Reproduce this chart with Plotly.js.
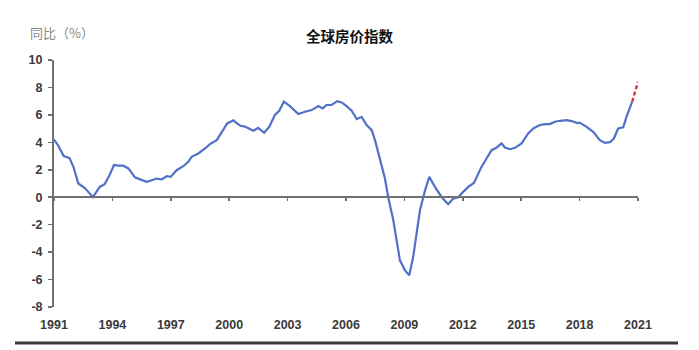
<!DOCTYPE html>
<html>
<head>
<meta charset="utf-8">
<script src="https://cdn.plot.ly/plotly-3.0.1.min.js"></script>
<style>html,body{margin:0;padding:0;background:#fff;}</style>
</head>
<body>
<div id="chart" style="width:699px;height:350px;"></div>
<script>
// Global house price index, YoY (%)
var years = [1991.0,1991.2,1991.5,1991.8,1992.0,1992.25,1992.6,1993.0,1993.35,1993.6,1993.85,1994.08,1994.3,1994.56,1994.82,
  1995.16,1995.42,1995.76,1996.02,1996.27,1996.53,1996.79,1996.99,1997.3,1997.64,1997.9,1998.07,1998.41,1998.76,1999.01,
  1999.36,1999.61,1999.9,2000.21,2000.55,2000.81,2001.24,2001.49,2001.79,2002.06,2002.35,2002.57,2002.81,2003.12,2003.55,
  2003.89,2004.24,2004.58,2004.8,2005.0,2005.26,2005.55,2005.78,2006.03,2006.29,2006.55,2006.8,2007.06,2007.32,2007.49,
  2007.74,2008.0,2008.17,2008.43,2008.77,2009.03,2009.25,2009.45,2009.8,2010.06,2010.28,2010.57,2010.91,2011.25,2011.51,
  2011.77,2012.02,2012.28,2012.57,2012.8,2012.96,2013.22,2013.48,2013.74,2013.99,2014.16,2014.42,2014.68,2015.02,2015.36,
  2015.62,2015.96,2016.22,2016.47,2016.73,2016.99,2017.33,2017.59,2017.85,2018.02,2018.36,2018.7,2019.04,2019.3,2019.56,
  2019.76,2019.98,2020.24,2020.41,2020.7];
var yoy = [4.2,3.8,3.0,2.85,2.2,1.0,0.65,0.0,0.75,0.95,1.6,2.35,2.3,2.3,2.1,
  1.45,1.3,1.12,1.24,1.36,1.3,1.53,1.48,1.97,2.26,2.58,2.94,3.19,3.55,3.87,
  4.16,4.77,5.38,5.6,5.22,5.15,4.84,5.06,4.7,5.13,6.0,6.3,6.96,6.64,6.06,
  6.23,6.35,6.64,6.47,6.72,6.72,7.0,6.91,6.64,6.3,5.69,5.86,5.26,4.89,4.16,
  2.7,1.36,0.0,-1.68,-4.6,-5.33,-5.69,-4.36,-0.95,0.51,1.48,0.75,0.02,-0.51,-0.1,
  0.0,0.39,0.75,1.04,1.73,2.21,2.82,3.43,3.62,3.92,3.62,3.5,3.6,3.92,4.65,
  5.01,5.26,5.33,5.33,5.5,5.57,5.62,5.55,5.42,5.42,5.13,4.77,4.16,3.96,4.01,
  4.28,5.01,5.09,5.86,6.96];
// Projection (red dashed)
var projYears = [2020.7, 2021.0];
var projYoy = [6.96, 8.4];
var xTicks = [1991,1994,1997,2000,2003,2006,2009,2012,2015,2018,2021];
var yTicks = [-8,-6,-4,-2,0,2,4,6,8,10];
var yTickText = ['-8','-6','-4','-2','0','2','4','6','8','10'];

var tickFont = {family:'"Liberation Sans", Arial, sans-serif', size:12.5, color:'#3a3a3a', weight:'bold'};
var axisGray = '#707070';

var traces = [
  {x: years, y: yoy, xaxis:'x', yaxis:'y', mode:'lines', line:{color:'#5170c8', width:2.2}, hoverinfo:'skip', showlegend:false},
  {x: projYears, y: projYoy, xaxis:'x', yaxis:'y', mode:'lines', line:{color:'#d8333a', width:2.4, dash:'4px,2.5px'}, hoverinfo:'skip', showlegend:false},
  {x: years, y: yoy, xaxis:'x2', yaxis:'y', mode:'lines', line:{width:0}, opacity:0, hoverinfo:'skip', showlegend:false}
];

var layout = {
  width: 699, height: 350,
  margin: {l:54, r:61, t:60, b:43},
  paper_bgcolor:'#fff', plot_bgcolor:'#fff',
  showlegend:false,
  title: {text:'<b>全球房价指数</b>', font:{family:'"Noto Sans CJK SC", sans-serif', size:14.5, color:'#111'},
          x:0.5, xref:'container', xanchor:'center', y:1-37/350, yref:'container', yanchor:'middle'},
  xaxis: {range:[1991,2021], tickvals:xTicks, showticklabels:false, ticks:'outside', ticklen:3, tickwidth:1.5, tickcolor:axisGray,
          showline:true, linecolor:axisGray, linewidth:2, showgrid:false, zeroline:false,
          anchor:'free', position:8/18},
  xaxis2: {range:[1991,2021], overlaying:'x', matches:'x', side:'bottom', anchor:'y', tickvals:xTicks, ticktext:xTicks.map(String),
           ticks:'', showline:false, showgrid:false, zeroline:false, tickfont:tickFont, ticklabelstandoff:8},
  yaxis: {range:[-8,10], tickvals:yTicks, ticktext:yTickText, ticks:'outside', ticklen:4, tickwidth:1.5, tickcolor:axisGray,
          showline:true, linecolor:axisGray, linewidth:2, showgrid:false, zeroline:false, tickfont:tickFont, ticklabelstandoff:3},
  annotations: [
    {text:'同比（%）', xref:'paper', yref:'paper', x:(28-54)/584, y:(307-33)/247, xanchor:'left', yanchor:'middle',
     showarrow:false, font:{family:'"Noto Sans CJK SC", sans-serif', size:13, color:'#8a8a8a'}}
  ],
  shapes: [
    {type:'line', xref:'paper', yref:'paper', x0:(15-54)/584, x1:(678-54)/584, y0:(307-343)/247, y1:(307-343)/247,
     line:{color:'#3a3a3a', width:3}}
  ]
};

Plotly.newPlot('chart', traces, layout, {staticPlot:true, displayModeBar:false});
</script>
</body>
</html>
